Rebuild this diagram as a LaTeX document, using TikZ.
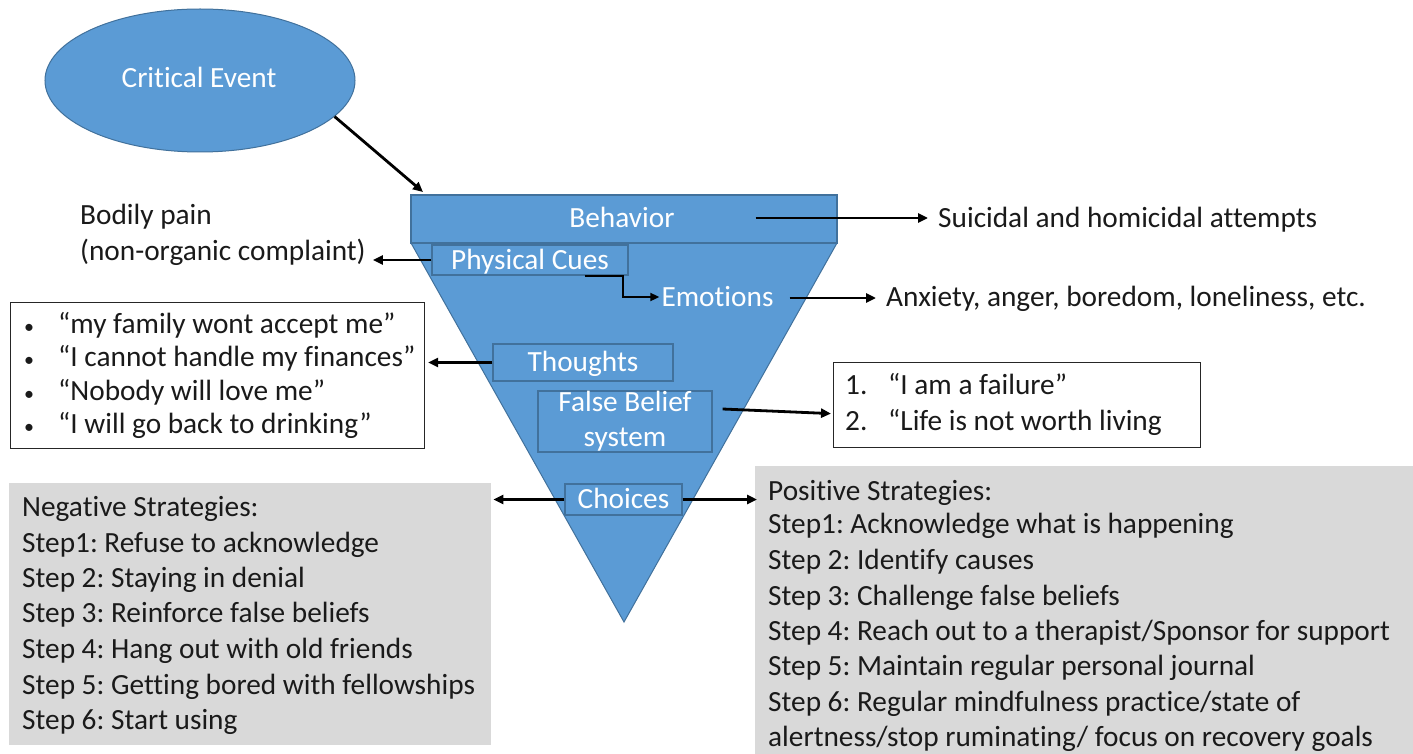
\documentclass[tikz,border=0pt]{standalone}
\usepackage{fontspec}
\setmainfont{Carlito}[Ligatures=NoCommon]
\usetikzlibrary{arrows.meta,shapes.geometric}
\definecolor{pblue}{HTML}{5B9BD5}
\definecolor{pedge}{HTML}{41719C}
\definecolor{pgrey}{HTML}{D9D9D9}
\definecolor{ptext}{HTML}{1A1A1A}
\frenchspacing
\begin{document}
\begin{tikzpicture}[x=1pt,y=-1pt,
  font=\fontsize{29.3}{35.5}\selectfont,
  arr/.style={-{Triangle[length=10pt,width=9pt]}, line width=2.8pt, black},
  thinarr/.style={-{Triangle[length=9pt,width=8pt]}, line width=2pt, black},
  inbox/.style={draw=pedge, fill=pblue, line width=1.2pt, text=white, inner sep=0pt, text height=23pt, text depth=5pt},
  wtxt/.style={text=white, inner sep=0pt, text height=23pt, text depth=5pt},
  txt/.style={anchor=west, inner sep=0pt, text=ptext, text height=23pt, text depth=5pt},
  outbox/.style={draw=black!85, line width=1.2pt, anchor=north west, inner sep=0pt},
  greybox/.style={fill=pgrey, draw=none, anchor=north west, inner sep=0pt}]
\useasboundingbox (0,0) rectangle (1413,754);
\fill[white] (0,0) rectangle (1413,754);

% critical event
\node (ce) [ellipse, draw=pedge, line width=1pt, fill=pblue, minimum width=310, minimum height=143, inner sep=0pt] at (200,80.5) {};
\node (cet) [wtxt] at (199,79) {Critical Event};
\coordinate (ceend) at (423,192);
\draw[arr] (ce.-15) -- (ceend);

% funnel
\draw[fill=pblue, draw=pedge, line width=1pt] (411,243) -- (837,243) -- (624,622) -- cycle;
\node (beh) [inbox, minimum width=426, minimum height=48] at (624,219) {};
\node (beht) [wtxt] at (622,219) {Behavior};

\node (pc) [inbox, minimum width=196, minimum height=30] at (530,260) {Physical Cues};
\node (emo) [wtxt, inner xsep=2pt] at (717.5,297) {Emotions};
\node (th) [inbox, minimum width=180, minimum height=37] at (583,362.5) {Thoughts};
\node (fb) [draw=pedge, fill=pblue, line width=1.2pt, text=white, inner sep=0pt, minimum width=174, minimum height=61, align=center, font=\fontsize{29.3}{35}\selectfont] at (625,421.5) {False Belief\\system};
\node (ch) [inbox, minimum width=117, minimum height=31] at (623.5,499.5) {Choices};

% right texts
\node (sui) [txt] at (938,218) {Suicidal and homicidal attempts};
\node (anx) [txt] at (886,297) {Anxiety, anger, boredom, loneliness, etc.};
\draw[arr] ([shift={(-82,-1)}]beh.east) -- ([shift={(-10,0)}]sui.west);
\draw[arr] ([shift={(14,1)}]emo.east) -- ([shift={(-10,1)}]anx.west);

% physical cues links
\node (bp1) [txt] at (80,216) {Bodily pain};
\node (bp2) [txt] at (80,251) {(non-organic complaint)};
\draw[arr] (pc.west) -- ([xshift=7pt]pc.west -| bp2.east);
\draw[thinarr] ([shift={(-44,0)}]pc.south east) -- ++(38,0) |- (emo.west);

% thoughts list
\node (tl) [outbox, minimum width=414, minimum height=146] at (10,302) {};
\foreach \yy/\tt [count=\i] in {324/{“my family wont accept me”},357/{“I cannot handle my finances”},391/{“Nobody will love me”},424/{“I will go back to drinking”}}{
  \node (tb\i) [txt, font=\fontsize{20}{24}\selectfont] at (24,\yy) {•};
  \node (tt\i) [txt] at (58,\yy) {\tt};
}
\draw[arr] (th.west) -- ([xshift=3pt]th.west -| tl.east);

% false belief list
\node (fl) [outbox, minimum width=367, minimum height=85] at (833,362) {};
\node (fn1) [txt] at (845,385) {1.};
\node (ft1) [txt] at (888,385) {“I am a failure”};
\node (fn2) [txt] at (845,421) {2.};
\node (ft2) [txt] at (888,421) {“Life is not worth living};
\draw[arr] ([shift={(10,-12.5)}]fb.east) -- ([shift={(-2,8.5)}]fl.west);

% negative strategies
\node (neg) [greybox, minimum width=482, minimum height=262] at (9,483) {};
\foreach \yy/\tt [count=\i] in {507/{Negative Strategies:},543/{Step1: Refuse to acknowledge},578/{Step 2: Staying in denial},613/{Step 3: Reinforce false beliefs},649/{Step 4: Hang out with old friends},685/{Step 5: Getting bored with fellowships},720/{Step 6: Start using}}{
  \node (n\i) [txt] at (22,\yy) {\tt};
}

% positive strategies
\node (pos) [greybox, minimum width=658, minimum height=288] at (755,466) {};
\foreach \yy/\tt [count=\i] in {491/{Positive Strategies:},524/{Step1: Acknowledge what is happening},560/{Step 2: Identify causes},596/{Step 3: Challenge false beliefs},631/{Step 4: Reach out to a therapist/Sponsor for support},666/{Step 5: Maintain regular personal journal},702/{Step 6: Regular mindfulness practice/state of},737/{alertness/stop ruminating/ focus on recovery goals}}{
  \node (p\i) [txt] at (768,\yy) {\tt};
}

\draw[arr] (ch.west) -- ([xshift=2pt]ch.west -| neg.east);
\draw[arr] (ch.east) -- ([xshift=2pt]ch.east -| pos.west);
\end{tikzpicture}
\end{document}
